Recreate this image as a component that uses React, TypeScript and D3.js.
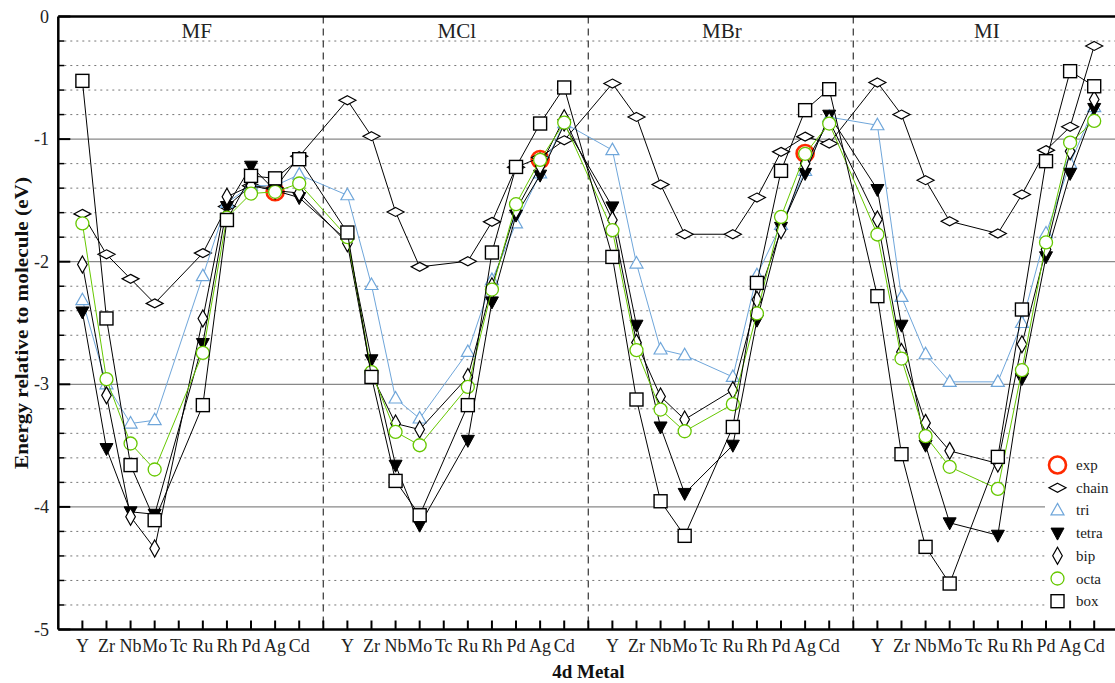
import React from 'react';
import * as d3 from 'd3';

const metals = ['Y', 'Zr', 'Nb', 'Mo', 'Tc', 'Ru', 'Rh', 'Pd', 'Ag', 'Cd'];
const panels = ['MF', 'MCl', 'MBr', 'MI'];
const yTicks = [0, -1, -2, -3, -4, -5];

const expVals = [
  null, null, null, null, null, null, null, null, -1.43, null,
  null, null, null, null, null, null, null, null, -1.166, null,
  null, null, null, null, null, null, null, null, -1.117, null,
  null, null, null, null, null, null, null, null, null, null,
];
const chainVals = [
  -1.61, -1.94, -2.14, -2.34, null, -1.93, -1.55, -1.38, -1.4, -1.14,
  -0.683, -0.976, -1.594, -2.042, null, -1.996, -1.675, -1.23, -1.15, -1.01,
  -0.547, -0.819, -1.37, -1.776, null, -1.776, -1.477, -1.104, -0.98, -1.036,
  -0.538, -0.8, -1.335, -1.67, null, -1.77, -1.452, -1.09, -0.9, -0.24,
];
const triVals = [
  -2.314, -3.0, -3.32, -3.293, null, -2.118, -1.52, -1.38, -1.38, -1.29,
  -1.458, -2.19, -3.116, -3.279, null, -2.736, -2.15, -1.688, -1.28, -0.87,
  -1.09, -2.015, -2.716, -2.763, null, -2.94, -2.11, -1.7, -1.26, -0.82,
  -0.887, -2.287, -2.755, -2.98, null, -2.98, -2.5, -1.77, -1.199, -0.74,
];
const tetraVals = [
  -2.41, -3.524, -4.04, -4.06, null, -2.667, -1.55, -1.221, -1.42, -1.477,
  -1.83, -2.8, -3.66, -4.149, null, -3.457, -2.328, -1.62, -1.294, -0.88,
  -1.553, -2.518, -3.348, -3.89, null, -3.497, -2.477, -1.72, -1.28, -0.805,
  -1.411, -2.518, -3.497, -4.13, null, -4.231, -2.953, -1.96, -1.28, -0.75,
];
const bipVals = [
  -2.023, -3.09, -4.08, -4.339, null, -2.463, -1.47, -1.38, -1.42, -1.44,
  -1.85, -2.92, -3.32, -3.369, null, -2.94, -2.2, -1.58, -1.22, -0.83,
  -1.66, -2.66, -3.1, -3.287, null, -3.048, -2.31, -1.743, -1.2, -0.85,
  -1.656, -2.736, -3.315, -3.543, null, -3.646, -2.673, -1.9, -1.1, -0.677,
];
const octaVals = [
  -1.688, -2.958, -3.483, -3.695, null, -2.744, -1.64, -1.444, -1.43, -1.362,
  -1.8, -2.9, -3.388, -3.497, null, -3.021, -2.227, -1.531, -1.17, -0.865,
  -1.743, -2.722, -3.206, -3.383, null, -3.162, -2.422, -1.634, -1.12, -0.873,
  -1.778, -2.79, -3.423, -3.673, null, -3.853, -2.885, -1.843, -1.028, -0.852,
];
const boxVals = [
  -0.525, -2.463, -3.659, -4.108, null, -3.17, -1.66, -1.3, -1.32, -1.164,
  -1.762, -2.94, -3.788, -4.068, null, -3.17, -1.925, -1.227, -0.873, -0.579,
  -1.961, -3.124, -3.954, -4.236, null, -3.348, -2.173, -1.259, -0.764, -0.593,
  -2.281, -3.57, -4.326, -4.625, null, -3.592, -2.39, -1.18, -0.446, -0.569,
];

const BLUE = '#6fa6da';
const GREEN = '#66c800';
const RED = '#ff2a00';

type Kind = 'exp' | 'chain' | 'tri' | 'tetra' | 'bip' | 'octa' | 'box';
const seriesList: { name: Kind; vals: (number | null)[]; color: string; line: boolean }[] = [
  { name: 'exp', vals: expVals, color: RED, line: false },
  { name: 'chain', vals: chainVals, color: '#000', line: true },
  { name: 'tri', vals: triVals, color: BLUE, line: true },
  { name: 'tetra', vals: tetraVals, color: '#000', line: true },
  { name: 'bip', vals: bipVals, color: '#000', line: true },
  { name: 'octa', vals: octaVals, color: GREEN, line: true },
  { name: 'box', vals: boxVals, color: '#000', line: true },
];

const W = 1115;
const H = 683;
const left = 58.3;
const right = 1118.3;
const top = 16.5;
const bottom = 629.5;
const FONT = '"Liberation Serif", "DejaVu Serif", serif';

const x = d3.scaleLinear().domain([0, 44]).range([left, right]);
const y = d3.scaleLinear().domain([0, -5]).range([top, bottom]);

function Marker({ kind, cx, cy, color }: { kind: Kind; cx: number; cy: number; color: string }) {
  const t = `translate(${cx},${cy})`;
  switch (kind) {
    case 'exp':
      return <circle cx={cx} cy={cy} r={8.5} fill="none" stroke={color} strokeWidth={2.6} />;
    case 'chain':
      return <path transform={t} d="M0,-4.5L8.5,0L0,4.5L-8.5,0Z" fill="#fff" stroke="#000" strokeWidth={1.2} />;
    case 'bip':
      return <path transform={t} d="M0,-8.5L4.8,0L0,8.5L-4.8,0Z" fill="#fff" stroke="#000" strokeWidth={1.2} />;
    case 'tri':
      return <path transform={t} d="M0,-7L6.5,4.5L-6.5,4.5Z" fill="#fff" stroke={color} strokeWidth={1.2} />;
    case 'tetra':
      return <path transform={t} d="M-6.5,-5L6.5,-5L0,7Z" fill="#000" stroke="#000" strokeWidth={1} />;
    case 'octa':
      return <circle cx={cx} cy={cy} r={6.5} fill="#fff" stroke={color} strokeWidth={1.3} />;
    case 'box':
      return <rect x={cx - 6.5} y={cy - 6.5} width={13} height={13} fill="#fff" stroke="#000" strokeWidth={1.4} />;
  }
  return null;
}

export default function App() {
  const idx = (k: number) => Math.floor(k / 10) * 11 + (k % 10) + 1;
  const lineGen = d3
    .line<{ gx: number; v: number }>()
    .x((d) => x(d.gx))
    .y((d) => y(d.v));

  const minorVals = d3.range(0, 26).map((i) => -i * 0.2).filter((v) => Math.abs(v - Math.round(v)) > 1e-6);
  const xTickIdx = d3.range(1, 44);

  const legendX = 1057.5;
  const legendY0 = 465;
  const legendDy = 22.7;

  return (
    <svg width={W} height={H} style={{ position: 'absolute', left: 0, top: 0 }} fontFamily={FONT}>
      <rect x={0} y={0} width={W} height={H} fill="#fff" />
      {/* minor dotted grid */}
      {minorVals.map((v) => (
        <line key={'m' + v} x1={left} x2={right} y1={y(v)} y2={y(v)} stroke="#777" strokeWidth={1} strokeDasharray="2,4" />
      ))}
      {/* major grid */}
      {yTicks.slice(1, -1).map((v) => (
        <line key={'g' + v} x1={left} x2={right} y1={y(v)} y2={y(v)} stroke="#888" strokeWidth={1.3} />
      ))}
      {/* panel dividers */}
      {[1, 2, 3].map((p) => (
        <line key={'d' + p} x1={x(p * 11)} x2={x(p * 11)} y1={top} y2={bottom} stroke="#444" strokeWidth={1.3} strokeDasharray="7,5" />
      ))}
      {/* panel titles */}
      {panels.map((p, i) => (
        <text key={p} x={x(i * 11 + 5.5) + (i === 0 ? 6 : 1)} y={38} textAnchor="middle" fontSize={21} fill="#222">
          {p}
        </text>
      ))}
      {/* series */}
      {seriesList.map((s) => {
        const pts = s.vals
          .map((v, k) => ({ gx: idx(k), v: v as number }))
          .filter((d, k) => s.vals[k] !== null);
        return (
          <g key={s.name}>
            {s.line && <path d={lineGen(pts) || ''} fill="none" stroke={s.color} strokeWidth={1} />}
            {pts.map((d, k) => (
              <Marker key={k} kind={s.name} cx={x(d.gx)} cy={y(d.v)} color={s.color} />
            ))}
          </g>
        );
      })}
      {/* legend */}
      <rect x={1045} y={450} width={80} height={162} fill="#fff" />
      {seriesList.map((s, i) => (
        <g key={'l' + s.name}>
          <Marker kind={s.name} cx={legendX} cy={legendY0 + i * legendDy} color={s.color} />
          <text x={1076} y={legendY0 + i * legendDy + 5} fontSize={15} fill="#222">
            {s.name}
          </text>
        </g>
      ))}
      {/* axes frame */}
      <line x1={left} x2={right} y1={top} y2={top} stroke="#000" strokeWidth={2.5} />
      <line x1={left} x2={right} y1={bottom} y2={bottom} stroke="#000" strokeWidth={2.5} />
      <line x1={left} x2={left} y1={top} y2={bottom} stroke="#000" strokeWidth={2.5} />
      {/* y ticks */}
      {yTicks.map((v) => (
        <g key={'yt' + v}>
          <line x1={left} x2={left + 12} y1={y(v)} y2={y(v)} stroke="#000" strokeWidth={2} />
          <text x={49} y={y(v) + 6} textAnchor="end" fontSize={18} fill="#222">
            {String(v)}
          </text>
        </g>
      ))}
      {minorVals.map((v) => (
        <line key={'mt' + v} x1={left} x2={left + 6} y1={y(v)} y2={y(v)} stroke="#000" strokeWidth={1.5} />
      ))}
      {/* x ticks */}
      {xTickIdx.map((i) => (
        <line key={'xt' + i} x1={x(i)} x2={x(i)} y1={bottom} y2={bottom - 9} stroke="#000" strokeWidth={2} />
      ))}
      {panels.map((p, pi) =>
        metals.map((m, mi) => (
          <text key={p + m} x={x(pi * 11 + mi + 1)} y={652} textAnchor="middle" fontSize={18} fill="#222">
            {m}
          </text>
        ))
      )}
      {/* axis titles */}
      <text x={(left + right) / 2} y={678} textAnchor="middle" fontSize={19} fontWeight="bold" fill="#111">
        4d Metal
      </text>
      <text
        transform={`translate(28,${(top + bottom) / 2}) rotate(-90)`}
        textAnchor="middle"
        fontSize={19}
        fontWeight="bold"
        fill="#111"
        textLength={292}
        lengthAdjust="spacingAndGlyphs"
      >
        Energy relative to molecule (eV)
      </text>
    </svg>
  );
}
